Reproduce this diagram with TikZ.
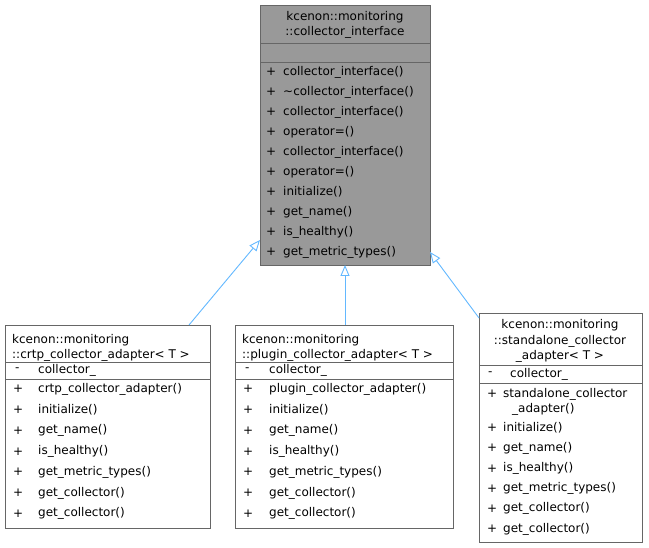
\documentclass[tikz,border=0pt]{standalone}
\usepackage{fontspec}
\setmainfont{DejaVu Sans}
\usetikzlibrary{arrows.meta}
\definecolor{boxline}{HTML}{666666}
\definecolor{boxgray}{HTML}{999999}
\definecolor{inh}{HTML}{63B8FF}
\tikzset{
  box/.style={draw=boxline, line width=0.8pt},
  txt/.style={anchor=west, inner sep=0pt, font=\fontsize{12}{13}\selectfont},
  ttl/.style={anchor=center, inner sep=0pt, font=\fontsize{12}{13}\selectfont},
  inherit/.style={draw=inh, line width=0.9pt, -{Triangle[open, length=11pt, width=9pt, fill=white]}}
}
\begin{document}
\begin{tikzpicture}[x=1pt, y=-1pt]
  \useasboundingbox (0,0) rectangle (649,548);

  % base class
  \filldraw[box, fill=boxgray] (260,5) rectangle (430,265);
  \draw[box] (260,43) -- (430,43);
  \draw[box] (260,62) -- (430,62);
  \node[ttl] at (345,17) {kcenon::monitoring};
  \node[ttl] at (345,32) {::collector\_interface};
  \coordinate (base) at (345,265);
  \coordinate (baseL) at (260,240);
  \coordinate (baseR) at (430,252);
  \foreach \t [count=\i from 0] in {collector\_interface(), \textasciitilde collector\_interface(),
      collector\_interface(), operator=(), collector\_interface(), operator=(),
      initialize(), get\_name(), is\_healthy(), get\_metric\_types()}
    {\node[txt] at (266,72+20*\i) {+}; \node[txt] at (283,72+20*\i) {\t};}

  % crtp adapter
  \draw[box, fill=white] (5,325) rectangle (210,528);
  \draw[box] (5,362) -- (210,362);
  \draw[box] (5,379) -- (210,379);
  \node[txt] at (12,340) {kcenon::monitoring};
  \node[txt] at (12,355) {::crtp\_collector\_adapter< T >};
  \node[txt] at (15,370) {-}; \node[txt] at (38,370) {collector\_};
  \foreach \t [count=\i from 0] in {crtp\_collector\_adapter(), initialize(), get\_name(),
      is\_healthy(), get\_metric\_types(), get\_collector(), get\_collector()}
    {\node[txt] at (13,389+20.8*\i) {+}; \node[txt] at (38,389+20.8*\i) {\t};}
  \coordinate (crtp) at (189,325);

  % plugin adapter
  \draw[box, fill=white] (235,325) rectangle (453,528);
  \draw[box] (235,362) -- (453,362);
  \draw[box] (235,379) -- (453,379);
  \node[txt] at (242,340) {kcenon::monitoring};
  \node[txt] at (242,355) {::plugin\_collector\_adapter< T >};
  \node[txt] at (245,370) {-}; \node[txt] at (269,370) {collector\_};
  \foreach \t [count=\i from 0] in {plugin\_collector\_adapter(), initialize(), get\_name(),
      is\_healthy(), get\_metric\_types(), get\_collector(), get\_collector()}
    {\node[txt] at (243,389+20.8*\i) {+}; \node[txt] at (269,389+20.8*\i) {\t};}
  \coordinate (plugin) at (345,325);

  % standalone adapter
  \draw[box, fill=white] (479,313) rectangle (642,542);
  \draw[box] (479,365) -- (642,365);
  \draw[box] (479,383) -- (642,383);
  \node[ttl] at (560,325) {kcenon::monitoring};
  \node[ttl] at (560,341) {::standalone\_collector};
  \node[ttl] at (560,356) {\_adapter< T >};
  \node[txt] at (488,374) {-}; \node[txt] at (510,374) {collector\_};
  \node[txt] at (487,394) {+}; \node[txt] at (503,394) {standalone\_collector};
  \node[txt] at (512,409) {\_adapter()};
  \foreach \t [count=\i from 0] in {initialize(), get\_name(), is\_healthy(),
      get\_metric\_types(), get\_collector(), get\_collector()}
    {\node[txt] at (487,428+20.2*\i) {+}; \node[txt] at (503,428+20.2*\i) {\t};}
  \coordinate (stand) at (479,318);

  % inheritance
  \draw[inherit] (crtp) -- (baseL);
  \draw[inherit] (plugin) -- (base);
  \draw[inherit] (stand) -- (baseR);
\end{tikzpicture}
\end{document}
